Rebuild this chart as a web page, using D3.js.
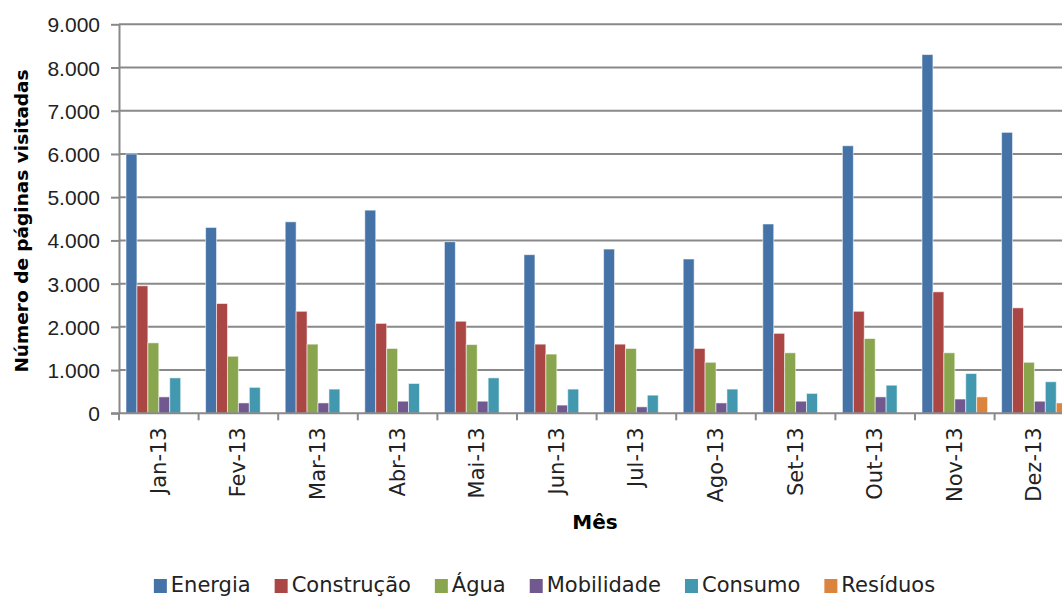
<!DOCTYPE html>
<html lang="pt">
<head>
<meta charset="utf-8"/>
<title>Número de páginas visitadas por mês</title>
<script src="https://d3js.org/d3.v7.min.js"></script>
<style>
  body { margin: 0; background: #fff; }
  svg { display: block; font-family: "DejaVu Sans", Verdana, sans-serif; }
  .grid line { stroke: #898989; stroke-width: 2; }
  .axis path, .axis line { stroke: #898989; stroke-width: 2; }
  .axis text { fill: #222; }
</style>
</head>
<body>
<div id="chart"></div>
<script>
// data
var months = ["Jan-13", "Fev-13", "Mar-13", "Abr-13", "Mai-13", "Jun-13",
              "Jul-13", "Ago-13", "Set-13", "Out-13", "Nov-13", "Dez-13"];
var seriesNames = ["Energia", "Construção", "Água", "Mobilidade", "Consumo", "Resíduos"];
var seriesColors = ["#4572A7", "#AA4643", "#89A54E", "#71588F", "#4198AF", "#DB843D"];

var energia    = [6000, 4300, 4430, 4700, 3970, 3670, 3800, 3570, 4380, 6190, 8300, 6500];
var construcao = [2950, 2540, 2360, 2080, 2130, 1600, 1600, 1500, 1850, 2360, 2810, 2440];
var agua       = [1630, 1320, 1600, 1500, 1590, 1370, 1500, 1180, 1400, 1730, 1400, 1180];
var mobilidade = [380, 240, 240, 280, 280, 190, 150, 240, 280, 380, 330, 280];
var consumo    = [820, 600, 560, 690, 820, 560, 420, 560, 460, 650, 920, 730];
var residuos   = [0, 0, 0, 0, 0, 0, 0, 0, 0, 0, 380, 240];

var yTicks = [0, 1000, 2000, 3000, 4000, 5000, 6000, 7000, 8000, 9000];

var seriesValues = [energia, construcao, agua, mobilidade, consumo, residuos];

var width = 1062, height = 596;
var plotLeft = 119, plotTop = 24.3, plotBottom = 413.3, step = 79.6;

var svg = d3.select("#chart").append("svg")
    .attr("width", width)
    .attr("height", height);

var x0 = d3.scaleBand()
    .domain(months)
    .range([plotLeft, plotLeft + step * months.length]);

var x1 = d3.scaleBand()
    .domain(seriesNames)
    .range([7, step - 7]);

var y = d3.scaleLinear()
    .domain([0, 9000])
    .range([plotBottom, plotTop]);

var fmt = function(d) { return d === 0 ? "0" : d3.format(",")(d).replace(/,/g, "."); };

// gridlines
svg.append("g")
    .attr("class", "grid")
  .selectAll("line")
  .data(yTicks.slice(1))
  .enter().append("line")
    .attr("x1", plotLeft)
    .attr("x2", width)
    .attr("y1", function(d) { return y(d); })
    .attr("y2", function(d) { return y(d); });

// bars
var rows = months.map(function(m, i) {
  return { month: m, vals: seriesNames.map(function(s, j) { return { key: s, value: seriesValues[j][i] }; }) };
});

svg.append("g")
  .selectAll("g")
  .data(rows)
  .enter().append("g")
    .attr("transform", function(d) { return "translate(" + x0(d.month) + ",0)"; })
  .selectAll("rect")
  .data(function(d) { return d.vals.filter(function(v) { return v.value > 0; }); })
  .enter().append("rect")
    .attr("x", function(d) { return x1(d.key); })
    .attr("y", function(d) { return y(d.value); })
    .attr("width", x1.bandwidth())
    .attr("height", function(d) { return plotBottom - y(d.value); })
    .attr("fill", function(d) { return seriesColors[seriesNames.indexOf(d.key)]; })
    .attr("stroke", "rgba(255,255,255,0.55)")
    .attr("stroke-width", 1);

// y axis
var yAxis = svg.append("g")
    .attr("class", "axis")
    .attr("transform", "translate(" + plotLeft + ",0)")
    .call(d3.axisLeft(y).tickValues(yTicks).tickFormat(fmt).tickSizeInner(8).tickSizeOuter(0).tickPadding(11));
yAxis.selectAll("text").style("font-size", "21px").attr("dy", "0.36em");

// x axis: ticks at category boundaries
var xAxis = svg.append("g")
    .attr("class", "axis")
    .attr("transform", "translate(0," + plotBottom + ")");
xAxis.append("line")
    .attr("x1", plotLeft - 8).attr("x2", width);
xAxis.selectAll(".tk")
  .data(months)
  .enter().append("line")
    .attr("class", "tk")
    .attr("x1", function(d) { return x0(d); })
    .attr("x2", function(d) { return x0(d); })
    .attr("y1", 0).attr("y2", 7);
xAxis.selectAll("text")
  .data(months)
  .enter().append("text")
    .attr("transform", function(d) { return "translate(" + (x0(d) + x0.bandwidth() / 2 + 7) + ",14) rotate(-90)"; })
    .attr("text-anchor", "end")
    .style("font-size", "21px")
    .text(function(d) { return d; });

// axis titles
svg.append("text")
    .attr("transform", "translate(28,221) rotate(-90)")
    .attr("text-anchor", "middle")
    .style("font-size", "18.5px")
    .style("font-weight", "bold")
    .text("Número de páginas visitadas");

svg.append("text")
    .attr("x", 595)
    .attr("y", 529)
    .attr("text-anchor", "middle")
    .style("font-size", "20px")
    .style("font-weight", "bold")
    .text("Mês");

// legend
var legend = svg.append("g");
var lx = 0;
seriesNames.forEach(function(name, i) {
  var g = legend.append("g").attr("transform", "translate(" + lx + ",0)");
  g.append("rect")
      .attr("x", 0).attr("y", 579)
      .attr("width", 13).attr("height", 14)
      .attr("fill", seriesColors[i]);
  var t = g.append("text")
      .attr("x", 17).attr("y", 592)
      .style("font-size", "21px")
      .style("fill", "#222")
      .text(name);
  lx += 17 + t.node().getComputedTextLength() + 24;
});
var legendWidth = lx - 24;
legend.attr("transform", "translate(" + (544.5 - legendWidth / 2) + ",0)");
</script>
</body>
</html>
